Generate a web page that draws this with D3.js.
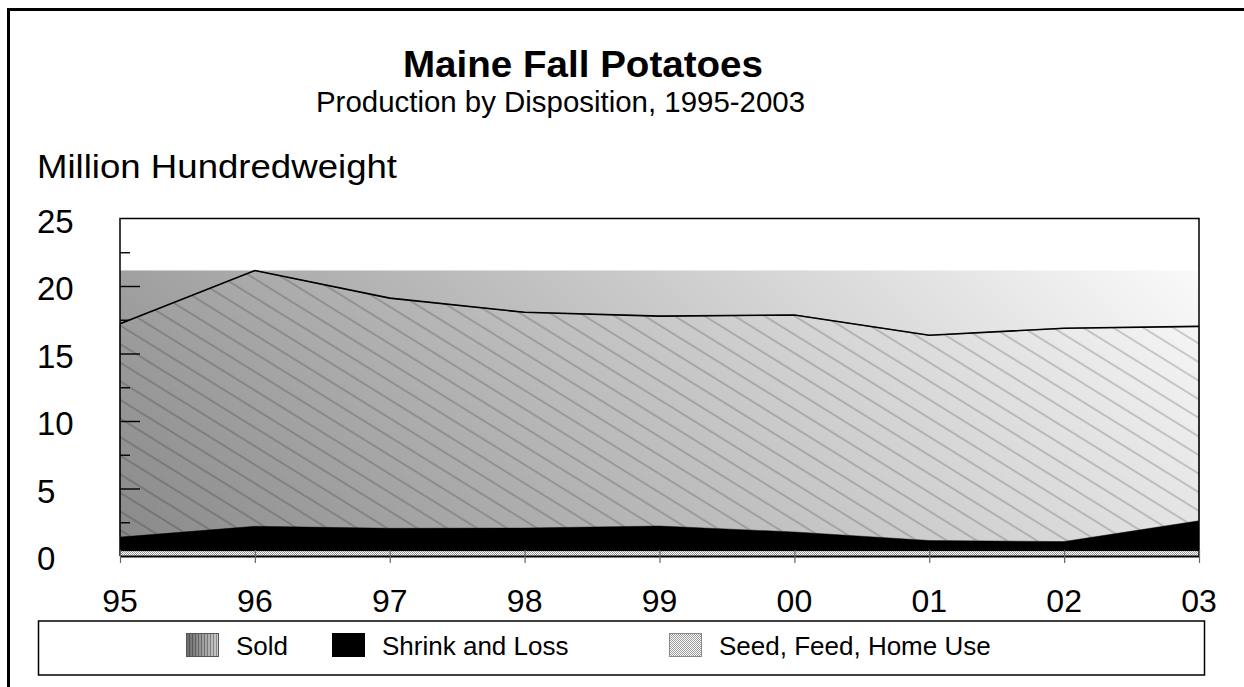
<!DOCTYPE html>
<html>
<head>
<meta charset="utf-8">
<script src="https://cdn.jsdelivr.net/npm/d3@7/dist/d3.min.js"></script>
<style>
  html, body { margin: 0; padding: 0; background: #fff; }
  svg { display: block; }
  text { font-family: "Liberation Sans", Arial, sans-serif; fill: #000; }
</style>
</head>
<body>
<svg id="chart" width="1244" height="687"></svg>
<script>
// ---------- data ----------
const years = ["95", "96", "97", "98", "99", "00", "01", "02", "03"];
const sold = [15.8, 18.95, 17.05, 15.98, 15.55, 16.07, 15.2, 15.8, 14.4];
const shrink = [1.05, 1.85, 1.7, 1.72, 1.87, 1.43, 0.8, 0.72, 2.26];
const seed = [0.35, 0.35, 0.35, 0.35, 0.35, 0.35, 0.35, 0.35, 0.35];
const seriesNames = ["Sold", "Shrink and Loss", "Seed, Feed, Home Use"];
const yTickLabels = [0, 5, 10, 15, 20, 25];
const yMinorTicks = [2.5, 7.5, 12.5, 17.5, 22.5];

const rows = years.map((yr, i) => ({ year: yr, seed: seed[i], shrink: shrink[i], sold: sold[i] }));

const svg = d3.select("#chart");
const defs = svg.append("defs");

// ---------- scales ----------
const x = d3.scalePoint().domain(years).range([120, 1199]);
const y = d3.scaleLinear().domain([0, 25]).range([556, 218.5]);

// ---------- defs ----------
const maxTotal = d3.max(rows, d => d.seed + d.shrink + d.sold);
const grad = defs.append("linearGradient").attr("id", "bgGrad")
  .attr("gradientUnits", "userSpaceOnUse")
  .attr("x1", 120).attr("y1", 556).attr("x2", 802).attr("y2", -126);
grad.append("stop").attr("offset", "0").attr("stop-color", "#888888");
grad.append("stop").attr("offset", "1").attr("stop-color", "#fafafa");

const hatch = defs.append("pattern").attr("id", "hatch")
  .attr("patternUnits", "userSpaceOnUse").attr("width", 40).attr("height", 15.8)
  .attr("patternTransform", "rotate(31.8)");
hatch.append("line").attr("x1", 0).attr("x2", 40).attr("y1", 7.9).attr("y2", 7.9)
  .attr("stroke", "rgba(0,0,0,0.38)").attr("stroke-width", 0.9);

const dots = defs.append("pattern").attr("id", "dots")
  .attr("patternUnits", "userSpaceOnUse").attr("width", 2).attr("height", 2);
dots.append("rect").attr("width", 2).attr("height", 2).attr("fill", "#ffffff");
dots.append("rect").attr("width", 1).attr("height", 1).attr("fill", "#9a9a9a");
dots.append("rect").attr("x", 1).attr("y", 1).attr("width", 1).attr("height", 1).attr("fill", "#9a9a9a");

const lgGrad = defs.append("linearGradient").attr("id", "lgGrad")
  .attr("x1", 0).attr("y1", 0).attr("x2", 1).attr("y2", 0);
lgGrad.append("stop").attr("offset", "0").attr("stop-color", "#6a6a6a");
lgGrad.append("stop").attr("offset", "1").attr("stop-color", "#d0d0d0");
const vlines = defs.append("pattern").attr("id", "vlines")
  .attr("patternUnits", "userSpaceOnUse").attr("width", 3).attr("height", 3);
vlines.append("rect").attr("width", 1).attr("height", 3).attr("fill", "rgba(0,0,0,0.3)");

// ---------- outer frame ----------
svg.append("rect").attr("x", 8.5).attr("y", 9.5).attr("width", 1400).attr("height", 900)
  .attr("fill", "none").attr("stroke", "#000").attr("stroke-width", 3);

// ---------- titles ----------
svg.append("text").attr("x", 583).attr("y", 77).attr("text-anchor", "middle")
  .attr("textLength", 360).attr("lengthAdjust", "spacingAndGlyphs")
  .style("font-size", "37px").style("font-weight", "bold").text("Maine Fall Potatoes");
svg.append("text").attr("x", 560.5).attr("y", 112).attr("text-anchor", "middle")
  .attr("textLength", 489).attr("lengthAdjust", "spacingAndGlyphs")
  .style("font-size", "29px").text("Production by Disposition, 1995-2003");
svg.append("text").attr("x", 37).attr("y", 178)
  .attr("textLength", 360).attr("lengthAdjust", "spacingAndGlyphs")
  .style("font-size", "33px").text("Million Hundredweight");

// ---------- stacked areas ----------
const stack = d3.stack().keys(["seed", "shrink", "sold"]);
const layers = stack(rows);

// gradient background box up to max total
svg.append("rect")
  .attr("x", x(years[0])).attr("y", y(maxTotal))
  .attr("width", x(years[years.length - 1]) - x(years[0]))
  .attr("height", y(0) - y(maxTotal))
  .attr("fill", "url(#bgGrad)");

const area = d3.area().x(d => x(d.data.year)).y0(d => y(d[0])).y1(d => y(d[1]));
const soldLayer = layers[2], shrinkLayer = layers[1], seedLayer = layers[0];

svg.append("path").datum(soldLayer).attr("d", area).attr("fill", "url(#hatch)")
  .attr("stroke", "rgba(0,0,0,0.45)").attr("stroke-width", 1);
svg.append("path").datum(shrinkLayer).attr("d", area).attr("fill", "#000");
svg.append("path").datum(seedLayer).attr("d", area).attr("fill", "url(#dots)");

const topLine = d3.line().x(d => x(d.data.year)).y(d => y(d[1]));
svg.append("path").datum(soldLayer).attr("d", topLine)
  .attr("fill", "none").attr("stroke", "#000").attr("stroke-width", 1.6);

// ---------- plot frame ----------
svg.append("path")
  .attr("d", `M${x(years[0])},${y(0)} V${y(25)} H${x(years[years.length - 1])} V${y(0)}`)
  .attr("fill", "none").attr("stroke", "#000").attr("stroke-width", 1.5);
svg.append("line").attr("x1", x(years[0])).attr("x2", x(years[years.length - 1]) + 1)
  .attr("y1", y(0) + 0.5).attr("y2", y(0) + 0.5).attr("stroke", "#000").attr("stroke-width", 2);

// ---------- y axis ticks (inward) ----------
const yMajor = svg.append("g").attr("transform", `translate(${x(years[0])},0)`)
  .call(d3.axisRight(y).tickValues(yTickLabels).tickSize(20).tickFormat(""));
const yMinor = svg.append("g").attr("transform", `translate(${x(years[0])},0)`)
  .call(d3.axisRight(y).tickValues(yMinorTicks).tickSize(10).tickFormat(""));
[yMajor, yMinor].forEach(g => {
  g.select(".domain").remove();
  g.selectAll(".tick line").attr("stroke", "#000").attr("stroke-width", 1.4);
});
yMajor.selectAll(".tick").filter(d => d === 0 || d === 25).remove();

// y tick labels (left aligned)
svg.append("g").selectAll("text").data(yTickLabels).join("text")
  .attr("x", 37).attr("y", d => y(d) + 14)
  .style("font-size", "33px").text(d => d);

// ---------- x axis ----------
const xAxis = svg.append("g").attr("transform", `translate(0,${y(0) - 6})`)
  .call(d3.axisBottom(x).tickSize(13).tickFormat(""));
xAxis.select(".domain").remove();
xAxis.selectAll(".tick line").attr("stroke", "#666").attr("stroke-width", 1.2);

svg.append("g").selectAll("text").data(years).join("text")
  .attr("x", d => x(d)).attr("y", 612).attr("text-anchor", "middle")
  .style("font-size", "32px").text(d => d);

// ---------- legend ----------
svg.append("rect").attr("x", 38.5).attr("y", 621).attr("width", 1166).attr("height", 54)
  .attr("fill", "#fff").attr("stroke", "#000").attr("stroke-width", 1.5);

const legendItems = [
  { name: seriesNames[0], sx: 186, fills: ["url(#lgGrad)", "url(#vlines)"], stroke: "#555" },
  { name: seriesNames[1], sx: 332, fills: ["#000"], stroke: "#000" },
  { name: seriesNames[2], sx: 669, fills: ["url(#dots)"], stroke: "#888" }
];
const lg = svg.append("g").selectAll("g").data(legendItems).join("g");
lg.each(function (d) {
  const g = d3.select(this);
  d.fills.forEach(f => g.append("rect").attr("x", d.sx).attr("y", 633).attr("width", 33).attr("height", 24).attr("fill", f));
  g.append("rect").attr("x", d.sx + 0.5).attr("y", 633.5).attr("width", 32).attr("height", 23)
    .attr("fill", "none").attr("stroke", d.stroke).attr("stroke-width", 1);
  g.append("text").attr("x", d.sx + 50).attr("y", 655).style("font-size", "26px").text(d.name);
});
</script>
</body>
</html>
